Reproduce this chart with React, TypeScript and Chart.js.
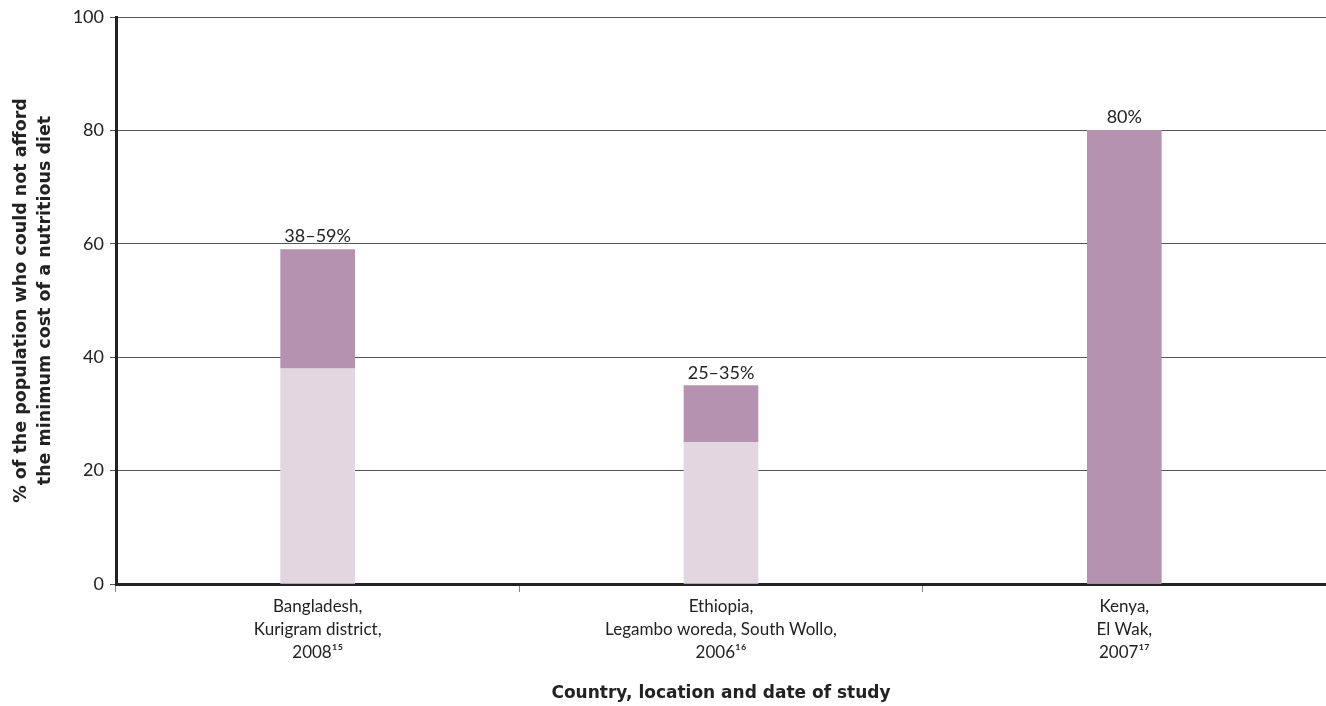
import React, { useEffect, useRef } from "react";
import { Chart, registerables } from "chart.js";

Chart.register(...registerables);

const categories: string[][] = [
  ["Bangladesh,", "Kurigram district,", "2008¹⁵"],
  ["Ethiopia,", "Legambo woreda, South Wollo,", "2006¹⁶"],
  ["Kenya,", "El Wak,", "2007¹⁷"],
];
const lowerValues = [38, 25, 0];
const rangeValues = [21, 10, 80];
const barLabels = ["38–59%", "25–35%", "80%"];
const yTitle = [
  "% of the population who could not afford",
  "the minimum cost of a nutritious diet",
];
const xTitle = "Country, location and date of study";

const FONT = "Lato, 'Open Sans', sans-serif";
const BOLD_FONT = "'DejaVu Sans', sans-serif";

const labelPlugin = {
  id: "barLabels",
  afterDatasetsDraw(chart: any) {
    const { ctx } = chart;
    const meta = chart.getDatasetMeta(1);
    ctx.save();
    ctx.font = `18px ${FONT}`;
    ctx.fillStyle = "#222";
    ctx.textAlign = "center";
    ctx.textBaseline = "alphabetic";
    meta.data.forEach((bar: any, i: number) => {
      ctx.fillText(barLabels[i], bar.x, bar.y - 7);
    });
    ctx.restore();
  },
};

export default function App() {
  const ref = useRef<HTMLCanvasElement>(null);
  useEffect(() => {
    document.body.style.margin = "0";
    const chart = new Chart(ref.current!, {
      type: "bar",
      data: {
        labels: categories,
        datasets: [
          {
            label: "Lower",
            data: lowerValues,
            backgroundColor: "#e3d6e1",
            barThickness: 74,
          },
          {
            label: "Range",
            data: rangeValues,
            backgroundColor: "#b593b0",
            barThickness: 74,
          },
        ],
      },
      options: {
        animation: false,
        responsive: false,
        maintainAspectRatio: false,
        layout: { padding: { top: 17, right: 0, left: 0, bottom: 0 } },
        plugins: {
          legend: { display: false },
          tooltip: { enabled: false },
        },
        scales: {
          x: {
            stacked: true,
            offset: true,
            grid: {
              offset: true,
              drawOnChartArea: false,
              drawTicks: true,
              tickLength: 8,
              color: "#888",
            },
            border: { display: true, color: "#222", width: 3 },
            ticks: {
              color: "#222",
              font: { family: FONT, size: 17, lineHeight: 1.36 },
              padding: 3,
              maxRotation: 0,
              autoSkip: false,
            },
            title: {
              display: true,
              text: xTitle,
              color: "#222",
              font: { family: BOLD_FONT, size: 17, weight: "bold" },
              padding: { top: 20, bottom: 2 },
            },
            afterFit(scale: any) {
              scale.height = 122;
            },
          },
          y: {
            stacked: true,
            min: 0,
            max: 100,
            ticks: {
              stepSize: 20,
              color: "#222",
              font: { family: FONT, size: 18 },
              padding: 6,
            },
            grid: {
              color: "#555",
              lineWidth: 1,
              tickLength: 6,
            },
            border: { display: true, color: "#222", width: 3 },
            title: {
              display: true,
              text: yTitle,
              color: "#222",
              font: { family: BOLD_FONT, size: 17.5, weight: "bold", lineHeight: 1.38 },
              padding: { top: 9, bottom: 0 },
            },
            afterFit(scale: any) {
              scale.width = 116;
            },
          },
        },
      },
      plugins: [labelPlugin],
    });
    return () => chart.destroy();
  }, []);
  return (
    <div style={{ width: 1326, height: 706 }}>
      <canvas ref={ref} width={1326} height={706} />
    </div>
  );
}
